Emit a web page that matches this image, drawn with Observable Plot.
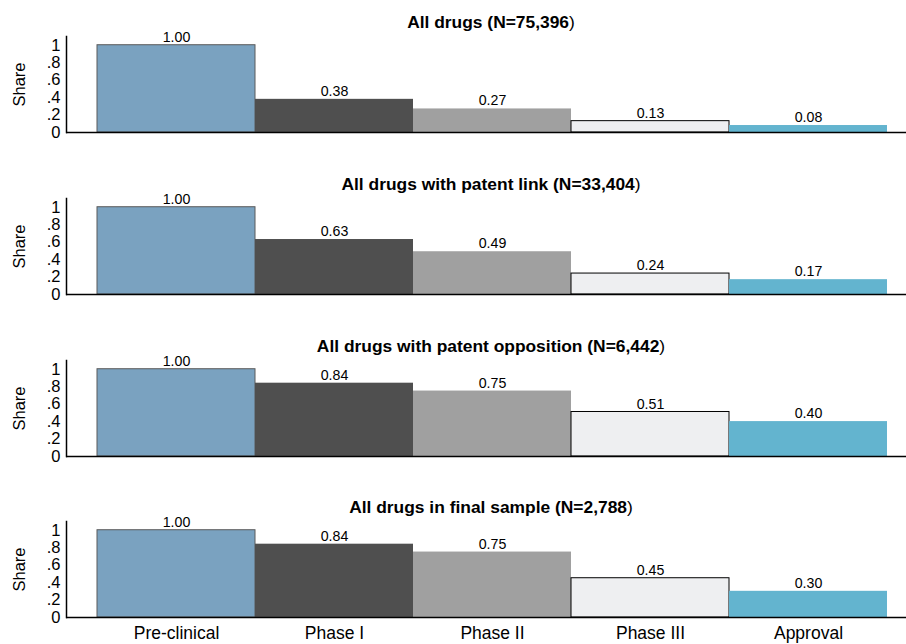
<!DOCTYPE html>
<html><head><meta charset="utf-8">
<script src="https://cdn.jsdelivr.net/npm/d3@7"></script>
<script src="https://cdn.jsdelivr.net/npm/@observablehq/plot@0.6"></script>
<style>
body{margin:0;background:#fff;font-family:"Liberation Sans",Arial,sans-serif;}
#wrap{position:relative;width:906px;}
.panel{position:relative;}
.title{position:absolute;left:76px;right:0;top:12px;line-height:20px;text-align:center;font-size:17.4px;color:#000;}
svg{display:block;}
g[aria-label="y-axis tick label"], g[aria-label="y-axis label"]{font-size:16.5px;}
g[aria-label="x-axis tick label"]{font-size:17.5px;}
</style></head><body><div id="wrap"></div>
<script>
const stages = ["Pre-clinical", "Phase I", "Phase II", "Phase III", "Approval"];
const titles = ["All drugs (N=75,396", "All drugs with patent link (N=33,404", "All drugs with patent opposition (N=6,442", "All drugs in final sample (N=2,788"];
const shareAll = [1.00, 0.38, 0.27, 0.13, 0.08];
const sharePatent = [1.00, 0.63, 0.49, 0.24, 0.17];
const shareOpposition = [1.00, 0.84, 0.75, 0.51, 0.40];
const shareFinal = [1.00, 0.84, 0.75, 0.45, 0.30];
const yTicks = [0, 0.2, 0.4, 0.6, 0.8, 1];
const fills = ["#7aa2c0", "#4f4f4f", "#a0a0a0", "#eeeff1", "#63b4cf"];
const strokes = ["#5a5a5a", "none", "none", "#000", "none"];

const series = [shareAll, sharePatent, shareOpposition, shareFinal];
const heights = [162, 162, 161, 159];
const wrap = document.getElementById("wrap");

series.forEach((vals, p) => {
  const data = stages.map((s, i) => ({stage: s, share: vals[i], fill: fills[i], stroke: strokes[i]}));
  const last = p === series.length - 1;
  const h = heights[p];
  const chart = Plot.plot({
    width: 906, height: h,
    marginLeft: 66, marginRight: 0, marginTop: 36, marginBottom: h - 36 - 96,
    style: {fontFamily: "'Liberation Sans', Arial, sans-serif", fontSize: "16.5px", background: "#fff"},
    x: {domain: stages, range: [97, 887], padding: 0, axis: null},
    y: {domain: [0, 1.1], axis: null},
    marks: [
      Plot.barY(data, {x: "stage", y: "share", fill: d => d.fill, stroke: d => d.stroke, strokeWidth: 1, inset: 0}),
      Plot.text(data, {x: "stage", y: "share", text: d => d.share.toFixed(2), dy: -8, fontSize: 14.2, fill: "#000"}),
      Plot.axisY(yTicks, {tickSize: 0, tickPadding: 6, fontSize: 16.5, tickFormat: d => d === 0 ? "0" : d === 1 ? "1" : String(d).replace("0.", "."), label: "Share", labelAnchor: "center", labelArrow: "none", labelOffset: 53, color: "#000"}),
      ...(last ? [Plot.axisX(stages, {tickSize: 0, tickPadding: 9, fontSize: 17.5, label: null, color: "#000"})] : []),
      Plot.ruleY([0], {stroke: "#000", strokeWidth: 1.5}),
      Plot.frame({anchor: "left", stroke: "#000", strokeWidth: 1.5})
    ]
  });
  const div = document.createElement("div");
  div.className = "panel";
  const t = document.createElement("div");
  t.className = "title";
  t.innerHTML = "<b>" + titles[p] + "</b>)";
  div.appendChild(chart);
  div.appendChild(t);
  wrap.appendChild(div);
});
</script></body></html>
